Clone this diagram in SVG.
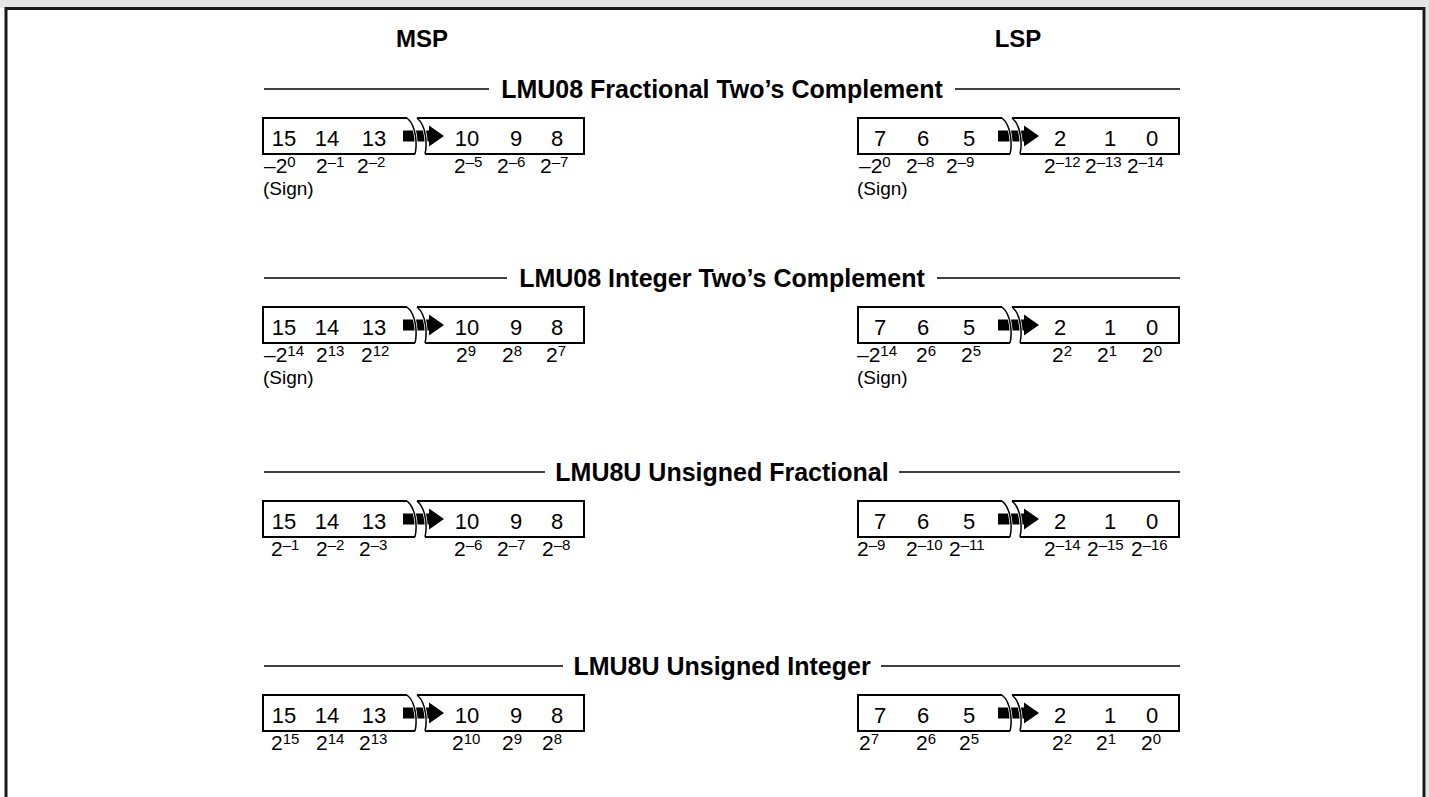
<svg xmlns="http://www.w3.org/2000/svg" xmlns:xlink="http://www.w3.org/1999/xlink" width="1429" height="797" viewBox="0 0 1429 797">
<style>
text{font-family:"Liberation Sans",Arial,Helvetica,sans-serif;fill:#000}
.hdr{font-size:24px;font-weight:bold;text-anchor:middle}
.title{font-size:25px;font-weight:bold;text-anchor:middle}
.num{font-size:22px;text-anchor:middle}
.lbl{font-size:21px}
.sup{font-size:15px}
.sign{font-size:19px}
.rule{stroke:#000;stroke-width:1.3;fill:none}
.edge{stroke:#000;stroke-width:2;fill:none}
.halo{stroke:#fff;stroke-width:3;fill:none}
.arc{stroke:#000;stroke-width:1.5;fill:none}
</style>
<defs>
<g id="reg">
<polygon points="140,12.5 166,12.5 166,7.5 181,18 166,28.5 166,23.5 140,23.5" fill="#000"/>
<path class="halo" d="M144,0 C154,8 154,28 152,36"/>
<path class="halo" d="M154,0 C164,8 164,28 162,36"/>
<path class="edge" d="M144,0 H0 V36 H152"/>
<path class="edge" d="M154,0 H321 V36 H162"/>
<path class="arc" d="M144,0 C154,8 154,28 152,36"/>
<path class="arc" d="M154,0 C164,8 164,28 162,36"/>
</g>
</defs>
<g id="frame">
<rect x="0" y="0" width="1429" height="8" fill="#e5e5e5"/>
<rect x="1426" y="8" width="3" height="789" fill="#e5e5e5"/>
<path d="M6,797 V8.5 H1424 V797" fill="none" stroke="#1a1a1a" stroke-width="3"/>
</g>
<g id="headers">
<text class="hdr" x="422" y="47">MSP</text>
<text class="hdr" x="1018" y="47">LSP</text>
</g>
<g id="connectors">
<line class="rule" x1="264" y1="89" x2="489" y2="89"/><line class="rule" x1="955" y1="89" x2="1180" y2="89"/>
<line class="rule" x1="264" y1="278" x2="507" y2="278"/><line class="rule" x1="937" y1="278" x2="1180" y2="278"/>
<line class="rule" x1="264" y1="472" x2="545" y2="472"/><line class="rule" x1="899" y1="472" x2="1180" y2="472"/>
<line class="rule" x1="264" y1="666" x2="563" y2="666"/><line class="rule" x1="881" y1="666" x2="1180" y2="666"/>
</g>
<g id="row1">
<text class="title" x="722" y="98">LMU08 Fractional Two’s Complement</text>
<g id="row1-msp">
<use xlink:href="#reg" x="263" y="118"/>
<text class="num" y="146"><tspan x="284">15</tspan><tspan x="327">14</tspan><tspan x="374">13</tspan><tspan x="467">10</tspan><tspan x="516">9</tspan><tspan x="557">8</tspan></text>
<text class="lbl" x="264" y="173">–2<tspan class="sup" dy="-6">0</tspan></text>
<text class="lbl" x="316" y="173">2<tspan class="sup" dy="-6">–1</tspan></text>
<text class="lbl" x="357" y="173">2<tspan class="sup" dy="-6">–2</tspan></text>
<text class="lbl" x="454" y="173">2<tspan class="sup" dy="-6">–5</tspan></text>
<text class="lbl" x="497" y="173">2<tspan class="sup" dy="-6">–6</tspan></text>
<text class="lbl" x="540" y="173">2<tspan class="sup" dy="-6">–7</tspan></text>
<text class="sign" x="263" y="195">(Sign)</text>
</g>
<g id="row1-lsp">
<use xlink:href="#reg" x="858" y="118"/>
<text class="num" y="146"><tspan x="880">7</tspan><tspan x="923">6</tspan><tspan x="969">5</tspan><tspan x="1060">2</tspan><tspan x="1110">1</tspan><tspan x="1152">0</tspan></text>
<text class="lbl" x="859" y="173">–2<tspan class="sup" dy="-6">0</tspan></text>
<text class="lbl" x="906" y="173">2<tspan class="sup" dy="-6">–8</tspan></text>
<text class="lbl" x="946" y="173">2<tspan class="sup" dy="-6">–9</tspan></text>
<text class="lbl" x="1044" y="173">2<tspan class="sup" dy="-6">–12</tspan></text>
<text class="lbl" x="1085" y="173">2<tspan class="sup" dy="-6">–13</tspan></text>
<text class="lbl" x="1127" y="173">2<tspan class="sup" dy="-6">–14</tspan></text>
<text class="sign" x="857" y="195">(Sign)</text>
</g>
</g>
<g id="row2">
<text class="title" x="722" y="287">LMU08 Integer Two’s Complement</text>
<g id="row2-msp">
<use xlink:href="#reg" x="263" y="307"/>
<text class="num" y="335"><tspan x="284">15</tspan><tspan x="327">14</tspan><tspan x="374">13</tspan><tspan x="467">10</tspan><tspan x="516">9</tspan><tspan x="557">8</tspan></text>
<text class="lbl" x="264" y="362">–2<tspan class="sup" dy="-6">14</tspan></text>
<text class="lbl" x="316" y="362">2<tspan class="sup" dy="-6">13</tspan></text>
<text class="lbl" x="361" y="362">2<tspan class="sup" dy="-6">12</tspan></text>
<text class="lbl" x="456" y="362">2<tspan class="sup" dy="-6">9</tspan></text>
<text class="lbl" x="502" y="362">2<tspan class="sup" dy="-6">8</tspan></text>
<text class="lbl" x="546" y="362">2<tspan class="sup" dy="-6">7</tspan></text>
<text class="sign" x="263" y="384">(Sign)</text>
</g>
<g id="row2-lsp">
<use xlink:href="#reg" x="858" y="307"/>
<text class="num" y="335"><tspan x="880">7</tspan><tspan x="923">6</tspan><tspan x="969">5</tspan><tspan x="1060">2</tspan><tspan x="1110">1</tspan><tspan x="1152">0</tspan></text>
<text class="lbl" x="857" y="362">–2<tspan class="sup" dy="-6">14</tspan></text>
<text class="lbl" x="916" y="362">2<tspan class="sup" dy="-6">6</tspan></text>
<text class="lbl" x="961" y="362">2<tspan class="sup" dy="-6">5</tspan></text>
<text class="lbl" x="1052" y="362">2<tspan class="sup" dy="-6">2</tspan></text>
<text class="lbl" x="1097" y="362">2<tspan class="sup" dy="-6">1</tspan></text>
<text class="lbl" x="1142" y="362">2<tspan class="sup" dy="-6">0</tspan></text>
<text class="sign" x="857" y="384">(Sign)</text>
</g>
</g>
<g id="row3">
<text class="title" x="722" y="481">LMU8U Unsigned Fractional</text>
<g id="row3-msp">
<use xlink:href="#reg" x="263" y="501"/>
<text class="num" y="529"><tspan x="284">15</tspan><tspan x="327">14</tspan><tspan x="374">13</tspan><tspan x="467">10</tspan><tspan x="516">9</tspan><tspan x="557">8</tspan></text>
<text class="lbl" x="271" y="556">2<tspan class="sup" dy="-6">–1</tspan></text>
<text class="lbl" x="316" y="556">2<tspan class="sup" dy="-6">–2</tspan></text>
<text class="lbl" x="359" y="556">2<tspan class="sup" dy="-6">–3</tspan></text>
<text class="lbl" x="454" y="556">2<tspan class="sup" dy="-6">–6</tspan></text>
<text class="lbl" x="497" y="556">2<tspan class="sup" dy="-6">–7</tspan></text>
<text class="lbl" x="542" y="556">2<tspan class="sup" dy="-6">–8</tspan></text>
</g>
<g id="row3-lsp">
<use xlink:href="#reg" x="858" y="501"/>
<text class="num" y="529"><tspan x="880">7</tspan><tspan x="923">6</tspan><tspan x="969">5</tspan><tspan x="1060">2</tspan><tspan x="1110">1</tspan><tspan x="1152">0</tspan></text>
<text class="lbl" x="857" y="556">2<tspan class="sup" dy="-6">–9</tspan></text>
<text class="lbl" x="906" y="556">2<tspan class="sup" dy="-6">–10</tspan></text>
<text class="lbl" x="949" y="556">2<tspan class="sup" dy="-6">–11</tspan></text>
<text class="lbl" x="1044" y="556">2<tspan class="sup" dy="-6">–14</tspan></text>
<text class="lbl" x="1087" y="556">2<tspan class="sup" dy="-6">–15</tspan></text>
<text class="lbl" x="1131" y="556">2<tspan class="sup" dy="-6">–16</tspan></text>
</g>
</g>
<g id="row4">
<text class="title" x="722" y="675">LMU8U Unsigned Integer</text>
<g id="row4-msp">
<use xlink:href="#reg" x="263" y="695"/>
<text class="num" y="723"><tspan x="284">15</tspan><tspan x="327">14</tspan><tspan x="374">13</tspan><tspan x="467">10</tspan><tspan x="516">9</tspan><tspan x="557">8</tspan></text>
<text class="lbl" x="271" y="750">2<tspan class="sup" dy="-6">15</tspan></text>
<text class="lbl" x="316" y="750">2<tspan class="sup" dy="-6">14</tspan></text>
<text class="lbl" x="359" y="750">2<tspan class="sup" dy="-6">13</tspan></text>
<text class="lbl" x="452" y="750">2<tspan class="sup" dy="-6">10</tspan></text>
<text class="lbl" x="502" y="750">2<tspan class="sup" dy="-6">9</tspan></text>
<text class="lbl" x="542" y="750">2<tspan class="sup" dy="-6">8</tspan></text>
</g>
<g id="row4-lsp">
<use xlink:href="#reg" x="858" y="695"/>
<text class="num" y="723"><tspan x="880">7</tspan><tspan x="923">6</tspan><tspan x="969">5</tspan><tspan x="1060">2</tspan><tspan x="1110">1</tspan><tspan x="1152">0</tspan></text>
<text class="lbl" x="859" y="750">2<tspan class="sup" dy="-6">7</tspan></text>
<text class="lbl" x="916" y="750">2<tspan class="sup" dy="-6">6</tspan></text>
<text class="lbl" x="959" y="750">2<tspan class="sup" dy="-6">5</tspan></text>
<text class="lbl" x="1052" y="750">2<tspan class="sup" dy="-6">2</tspan></text>
<text class="lbl" x="1096" y="750">2<tspan class="sup" dy="-6">1</tspan></text>
<text class="lbl" x="1141" y="750">2<tspan class="sup" dy="-6">0</tspan></text>
</g>
</g>
</svg>
